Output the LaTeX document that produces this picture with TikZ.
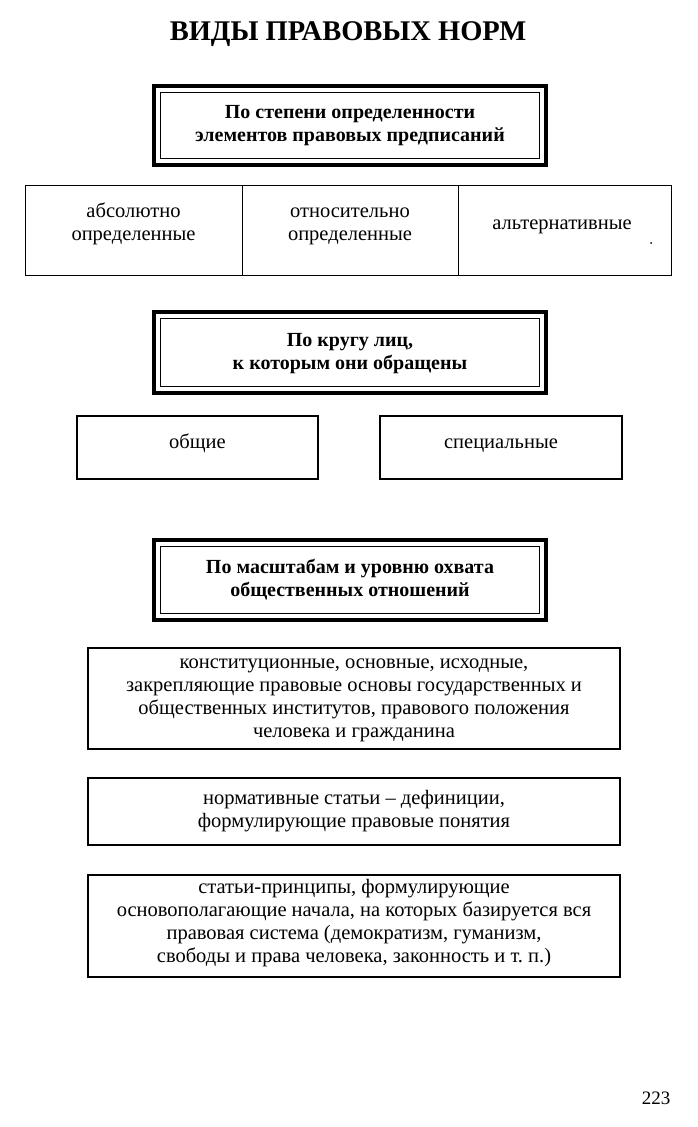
\documentclass[tikz,border=0pt]{standalone}
\usepackage{fontspec}
\setmainfont{Liberation Serif}
\begin{document}
\begin{tikzpicture}[x=1pt,y=-1pt,
  hdr/.style={draw, line width=3.5pt, minimum width=392pt, inner sep=0pt},
  hdrtext/.style={align=center, font=\fontsize{20}{23}\selectfont\bfseries, inner sep=0pt},
  cell/.style={draw, line width=1pt, inner sep=0pt},
  boxtext/.style={align=center, font=\fontsize{20.5}{23}\selectfont, inner sep=0pt},
  plainbox/.style={draw, line width=1.3pt, inner sep=0pt}
]
\useasboundingbox (0,0) rectangle (697,1127);

\node[font=\fontsize{28.5}{34}\selectfont\bfseries] (title) at (348,34) {ВИДЫ ПРАВОВЫХ НОРМ};

% header 1
\node[hdr, minimum height=79pt] (h1) at (350,125.5) {};
\draw[line width=1pt] ([shift={(8,8)}]h1.north west) rectangle ([shift={(-8,-8)}]h1.south east);
\node[hdrtext] (h1t) at (350,125.5) {\strut По степени определенности\\\strut элементов правовых предписаний};

% three cells
\node[cell, minimum width=217pt, minimum height=90pt] (c1) at (133.5,230) {};
\node[cell, minimum width=216pt, minimum height=90pt] (c2) at (350,230) {};
\node[cell, minimum width=213pt, minimum height=90pt] (c3) at (564.5,230) {};
\node[boxtext] (c1t) at (133.5,224.5) {\strut абсолютно\\\strut определенные};
\node[boxtext] (c2t) at (350,224.5) {\strut относительно\\\strut определенные};
\node[boxtext] (c3t) at (562,224.5) {\strut альтернативные};
\fill (651,243) circle (1pt);

% header 2
\node[hdr, minimum height=81pt] (h2) at (350,352.5) {};
\draw[line width=1pt] ([shift={(8,8)}]h2.north west) rectangle ([shift={(-8,-8)}]h2.south east);
\node[hdrtext] (h2t) at (350,353.5) {\strut По кругу лиц,\\\strut к которым они обращены};

\node[plainbox, minimum width=241pt, minimum height=63pt] (g1) at (197.5,447.5) {};
\node[boxtext] (g1t) at (197.5,444) {\strut общие};
\node[plainbox, minimum width=242pt, minimum height=63pt] (g2) at (501,447.5) {};
\node[boxtext] (g2t) at (501,444) {\strut специальные};

% header 3
\node[hdr, minimum height=80pt] (h3) at (350,580) {};
\draw[line width=1pt] ([shift={(8,8)}]h3.north west) rectangle ([shift={(-8,-8)}]h3.south east);
\node[hdrtext] (h3t) at (350,580.5) {\strut По масштабам и уровню охвата\\\strut общественных отношений};

% bottom boxes
\node[plainbox, minimum width=532pt, minimum height=101pt] (b1) at (354,698.5) {};
\node[boxtext] (b1t) at (354,698) {\strut конституционные, основные, исходные,\\\strut закрепляющие правовые основы государственных и\\\strut общественных институтов, правового положения\\\strut человека и гражданина};
\node[plainbox, minimum width=532pt, minimum height=67pt] (b2) at (354,811.5) {};
\node[boxtext] (b2t) at (354,811.5) {\strut нормативные статьи – дефиниции,\\\strut формулирующие правовые понятия};
\node[plainbox, minimum width=532pt, minimum height=102pt] (b3) at (354,926) {};
\node[boxtext] (b3t) at (354,923.5) {\strut статьи-принципы, формулирующие\\\strut основополагающие начала, на которых базируется вся\\\strut правовая система (демократизм, гуманизм,\\\strut свободы и права человека, законность и т.~п.)};

\node[font=\fontsize{19}{23}\selectfont] (page) at (656,1098) {223};
\end{tikzpicture}
\end{document}
